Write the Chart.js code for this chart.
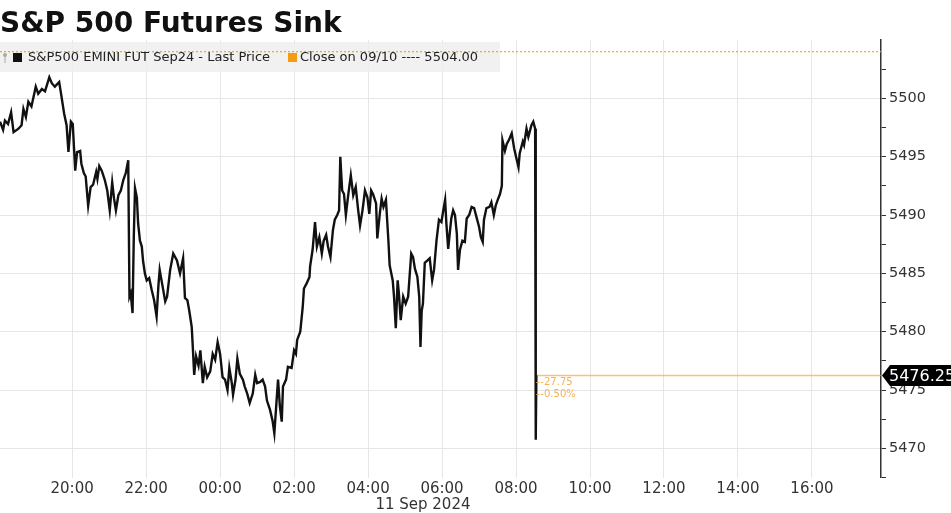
<!DOCTYPE html>
<html><head><meta charset="utf-8">
<script src="https://cdn.jsdelivr.net/npm/chart.js@4.4.0/dist/chart.umd.min.js"></script>
<style>html,body{margin:0;padding:0;background:#fff;}#wrap{width:951px;height:513px;position:relative;}</style>
</head><body><div id="wrap"><canvas id="c" width="951" height="513"></canvas></div>
<script>
const TITLE = "S&P 500 Futures Sink";
const SERIES_LABEL = "S&P500 EMINI FUT Sep24 - Last Price";
const CLOSE_LABEL = "Close on 09/10 ---- 5504.00";
const DATE_LABEL = "11 Sep 2024";

// minutes since 18:00 on 10 Sep 2024
const minutes = [
  3,8,11,16,21,25,33,38,41,45,
  49,54,61,65,71,76,83,87,92,99,
  102,107,111,114,118,121,125,128,133,135,
  139,142,146,150,154,159,161,164,168,173,
  177,181,185,188,191,195,199,203,207,211,
  213,215,218,220,222,225,227,230,233,235,
  238,241,245,249,253,257,260,262,267,271,
  274,279,284,290,295,300,303,307,310,314,
  316,318,321,325,328,332,335,339,344,348,
  352,356,360,364,368,372,375,379,381,385,
  388,392,397,400,404,408,413,417,420,425,
  429,433,436,441,445,448,452,454,457,460,
  462,467,470,476,480,483,485,490,494,496,
  500,505,506,510,514,517,521,525,528,532,
  535,539,543,546,550,553,555,558,561,564,
  568,572,576,580,584,587,591,595,599,602,
  605,608,613,615,619,622,625,629,633,635,
  640,642,645,648,650,653,657,661,665,670,
  673,676,680,683,685,687,689,692,696,700,
  704,707,711,715,719,722,725,727,730,733,
  735,738,741,744,746,749,753,757,760,764,
  768,772,776,780,783,786,788,792,797,800,
  804,807,811,814,817,818,822,825,829,833,
  837,840,844,846,851,853,857,860,863,865,
  868,871,872,873
];
const prices = [
  5498.0,5497.3,5498.1,5497.8,5498.8,5497.1,5497.4,5497.7,5499.1,5498.4,
  5499.7,5499.3,5501.0,5500.4,5500.8,5500.6,5501.8,5501.3,5501.0,5501.4,
  5500.4,5498.7,5497.7,5495.4,5498.0,5497.8,5493.8,5495.4,5495.5,5494.4,
  5493.6,5493.3,5490.8,5492.4,5492.6,5493.7,5493.1,5494.2,5493.8,5493.0,
  5492.1,5490.4,5492.8,5491.4,5490.4,5491.7,5492.1,5493.0,5493.6,5494.7,
  5483.0,5483.3,5481.6,5488.1,5492.3,5491.5,5489.3,5487.8,5487.3,5486.1,
  5485.0,5484.4,5484.6,5483.6,5482.7,5481.3,5484.0,5485.3,5483.8,5482.6,
  5483.0,5485.3,5486.7,5486.1,5485.0,5486.3,5482.9,5482.7,5481.8,5480.4,
  5478.4,5476.3,5477.9,5477.1,5478.4,5475.6,5477.0,5476.1,5476.6,5478.1,
  5477.6,5479.1,5478.1,5476.1,5475.9,5475.0,5476.9,5475.6,5474.6,5475.9,
  5477.7,5476.4,5475.9,5475.3,5474.7,5473.9,5474.7,5476.3,5475.6,5475.7,
  5475.9,5475.3,5474.1,5473.3,5472.4,5471.3,5474.4,5475.9,5473.6,5472.3,
  5475.3,5475.9,5477.0,5476.9,5478.4,5478.1,5479.3,5480.0,5482.1,5483.7,
  5484.1,5484.7,5485.6,5487.0,5489.4,5487.3,5488.1,5486.7,5487.8,5488.3,
  5487.3,5486.4,5488.7,5489.6,5490.0,5490.4,5495.0,5492.1,5491.8,5490.0,
  5491.8,5493.4,5491.7,5492.4,5490.4,5489.1,5490.4,5492.1,5491.5,5490.1,
  5492.1,5491.8,5491.0,5488.0,5490.1,5491.4,5490.7,5491.3,5487.8,5485.7,
  5484.4,5483.1,5480.3,5484.4,5483.3,5481.0,5483.0,5482.4,5483.0,5486.7,
  5486.4,5485.4,5484.7,5483.0,5478.7,5481.8,5482.4,5485.9,5486.1,5486.3,
  5484.4,5485.3,5487.8,5489.6,5489.4,5490.4,5491.3,5489.3,5487.1,5488.7,
  5489.7,5490.4,5490.0,5488.4,5485.3,5487.0,5487.8,5487.7,5489.7,5490.0,
  5490.7,5490.6,5489.8,5489.0,5488.1,5487.7,5489.6,5490.6,5490.7,5491.1,
  5490.0,5490.8,5491.4,5491.8,5492.5,5496.4,5495.5,5496.1,5496.5,5497.0,
  5495.7,5495.0,5494.1,5495.3,5496.3,5496.0,5497.4,5496.7,5497.3,5497.7,
  5498.0,5497.4,5470.75,5476.25
];
const prevClose = 5504.00;
const lastPrice = 5476.25;
const xTickMinutes = [120,240,360,480,600,720,840,960,1080,1200,1320];
const xTickLabels = ["20:00","22:00","00:00","02:00","04:00","06:00","08:00","10:00","12:00","14:00","16:00"];
const yTickValues = [5467.5,5470,5472.5,5475,5477.5,5480,5482.5,5485,5487.5,5490,5492.5,5495,5497.5,5500,5502.5];
const xRange = [3, 1432];
const yRange = [5467.5, 5505];
const dateLabelAt = 689;

const change = lastPrice - prevClose;
const changeLabels = [change.toFixed(2), (change / prevClose * 100).toFixed(2) + "%"];

const FONT = '"DejaVu Sans", Verdana, sans-serif';
const ORANGE = '#f39c12';

const seriesData = minutes.map((m, i) => ({x: m, y: prices[i]}));
const lastX = minutes[minutes.length - 1];
const closeData = [{x: xRange[0], y: prevClose}, {x: xRange[1], y: prevClose}];
const lastLineData = [{x: lastX, y: lastPrice}, {x: xRange[1], y: lastPrice}];

const overlay = {
  id: 'overlay',
  beforeDatasetsDraw(chart) {
    const c = chart.ctx, a = chart.chartArea;
    c.save();
    c.fillStyle = 'rgba(238,238,238,0.82)';
    c.fillRect(a.left, 42, 500, 30);
    c.restore();
  },
  afterDatasetsDraw(chart) {
    const c = chart.ctx;
    c.save();
    c.strokeStyle = '#aaa'; c.fillStyle = '#aaa'; c.lineWidth = 1;
    c.beginPath(); c.arc(5, 55, 2, 0, Math.PI * 2); c.fill();
    c.beginPath(); c.moveTo(5, 56); c.lineTo(5, 63); c.stroke();
    c.fillStyle = '#111'; c.fillRect(13, 53, 9, 9);
    c.fillStyle = ORANGE; c.fillRect(288, 53, 9, 9);
    c.font = '13px ' + FONT; c.textBaseline = 'middle'; c.fillStyle = '#222';
    c.fillText(SERIES_LABEL, 28, 58);
    c.fillText(CLOSE_LABEL, 300, 58);
    c.restore();
  },
  afterDraw(chart) {
    const c = chart.ctx, a = chart.chartArea;
    const xs = chart.scales.x, ys = chart.scales.y;
    c.save();
    c.font = 'bold 28px ' + FONT; c.fillStyle = '#111'; c.textBaseline = 'alphabetic';
    c.fillText(TITLE, 0, 31.5);
    c.font = '15px ' + FONT; c.fillStyle = '#333'; c.textAlign = 'center'; c.textBaseline = 'middle';
    c.fillText(DATE_LABEL, xs.getPixelForValue(dateLabelAt), 505);
    const px = xs.getPixelForValue(lastX), py = ys.getPixelForValue(lastPrice);
    c.textAlign = 'left'; c.font = '10px ' + FONT; c.fillStyle = '#f2b25a';
    c.strokeStyle = '#f2b25a'; c.lineWidth = 1;
    [7, 19].forEach((dy, i) => {
      c.beginPath(); c.moveTo(px, py + dy); c.lineTo(px + 3, py + dy); c.stroke();
      c.fillText(changeLabels[i], px + 4, py + dy);
    });
    const r = a.right;
    c.fillStyle = '#000';
    c.beginPath();
    c.moveTo(r + 1, py);
    c.lineTo(r + 9, py - 10.5);
    c.lineTo(951, py - 10.5);
    c.lineTo(951, py + 10.5);
    c.lineTo(r + 9, py + 10.5);
    c.closePath(); c.fill();
    c.fillStyle = '#fff'; c.font = '16px ' + FONT; c.textBaseline = 'middle';
    c.fillText(lastPrice.toFixed(2), r + 8, py + 1);
    c.restore();
  }
};

new Chart(document.getElementById('c'), {
  type: 'line',
  data: {
    datasets: [
      {label: SERIES_LABEL, data: seriesData, borderColor: '#111', borderWidth: 2.4, pointRadius: 0, tension: 0, order: 0},
      {label: CLOSE_LABEL, data: closeData, borderColor: 'rgba(243,156,18,0.9)', borderWidth: 1.2, borderDash: [2, 2], pointRadius: 0, order: 2},
      {label: 'Last', data: lastLineData, borderColor: 'rgba(243,156,18,0.6)', borderWidth: 1.5, pointRadius: 0, order: 1}
    ]
  },
  options: {
    responsive: false,
    devicePixelRatio: 1,
    animation: false,
    layout: {padding: {top: 40, left: 0, right: 0, bottom: 0}},
    plugins: {legend: {display: false}, tooltip: {enabled: false}, title: {display: false}},
    scales: {
      x: {
        type: 'linear', min: xRange[0], max: xRange[1],
        afterBuildTicks(s) { s.ticks = xTickMinutes.map(v => ({value: v})); },
        afterFit(s) { s.height = 35.4; },
        ticks: {callback: (v, i) => xTickLabels[i], font: {family: FONT, size: 15}, color: '#333', padding: 3, maxRotation: 0, autoSkip: false},
        grid: {color: '#e6e6e6', lineWidth: 1, drawTicks: false},
        border: {display: false}
      },
      y: {
        type: 'linear', position: 'right', min: yRange[0], max: yRange[1],
        afterBuildTicks(s) { s.ticks = yTickValues.map(v => ({value: v})); },
        afterFit(s) { s.width = 70; },
        ticks: {callback: v => (v % 5 === 0 ? String(v) : ''), font: {family: FONT, size: 14.5}, color: '#333', padding: 3, autoSkip: false},
        grid: {
          color: ctx => (ctx.tick && ctx.tick.value % 5 === 0 ? '#e6e6e6' : 'rgba(0,0,0,0)'),
          tickColor: '#333', tickLength: 5, lineWidth: 1
        },
        border: {color: '#333', width: 1.5}
      }
    }
  },
  plugins: [overlay]
});
</script></body></html>
